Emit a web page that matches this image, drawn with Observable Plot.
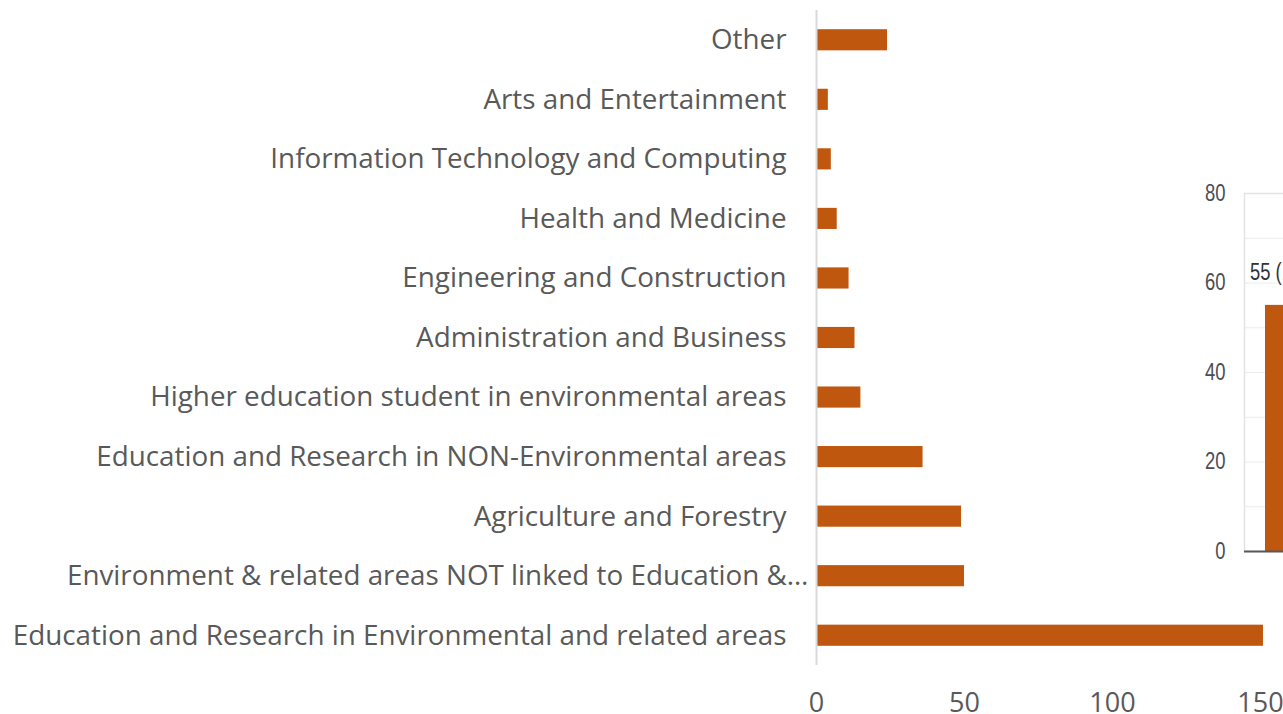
<!DOCTYPE html>
<html>
<head>
<meta charset="utf-8">
<script src="https://cdn.jsdelivr.net/npm/d3@7"></script>
<script src="https://cdn.jsdelivr.net/npm/@observablehq/plot@0.6"></script>
<style>
  html, body { margin: 0; padding: 0; background: #fff; }
  #wrap { position: relative; width: 1283px; height: 714px; overflow: hidden; }
  #main { position: absolute; left: 0; top: 0; }
  #inset { position: absolute; left: 1180px; top: 170px; width: 103px; height: 400px; overflow: hidden; }
  #wrap svg { max-width: none !important; }
</style>
</head>
<body>
<div id="wrap"><div id="main"></div><div id="inset"></div></div>
<script>
// Main chart data (top to bottom)
const categories = [
  "Other",
  "Arts and Entertainment",
  "Information Technology and Computing",
  "Health and Medicine",
  "Engineering and Construction",
  "Administration and Business",
  "Higher education student in environmental areas",
  "Education and Research in NON-Environmental areas",
  "Agriculture and Forestry",
  "Environment & related areas NOT linked to Education &…",
  "Education and Research in Environmental and related areas"
];
const values = [24, 4, 5, 7, 11, 13, 15, 36, 49, 50, 151];
const xTicks = [0, 50, 100, 150];
const truncatedCategory = categories[9];

// Inset chart data (partially visible)
const insetCategories = ["A"];
const insetValues = [55];
const insetLabels = ["55 (15.1%)"];
const insetTicks = [0, 20, 40, 60, 80];
const insetGrid = [10, 20, 30, 40, 50, 60, 70, 80];

const barColor = "#c0570e";
const data = categories.map((c, i) => ({category: c, value: values[i]}));

const main = Plot.plot({
  width: 1283,
  height: 714,
  marginLeft: 816,
  marginRight: 23,
  marginTop: 10,
  marginBottom: 49,
  style: {fontFamily: "'Open Sans', sans-serif", fontSize: "27.8px", color: "#595959", background: "#fff"},
  x: {domain: [0, 150], label: null},
  y: {domain: categories, paddingInner: 0.645, paddingOuter: 0.3225, round: false, label: null},
  marks: [
    Plot.barX(data, {x: "value", y: "category", fill: barColor}),
    Plot.ruleX([0], {stroke: "#d9d9d9", strokeWidth: 2}),
    Plot.axisX(xTicks, {tickSize: 0, tickPadding: 27, label: null, tickFormat: d => String(d), fill: "#595959", fontSize: 27}),
    Plot.axisY(categories.filter(c => c !== truncatedCategory), {tickSize: 0, tickPadding: 30, label: null, fill: "#595959"}),
    Plot.axisY([truncatedCategory], {tickSize: 0, tickPadding: 8, label: null, fill: "#595959"})
  ]
});
document.getElementById("main").appendChild(main);

const insetData = insetCategories.map((c, i) => ({category: c, value: insetValues[i], label: insetLabels[i]}));
const inset = Plot.plot({
  width: 190,
  height: 400,
  marginLeft: 64,
  marginRight: 0,
  marginTop: 23,
  marginBottom: 19,
  style: {fontFamily: "'Liberation Sans', Arial, sans-serif", fontSize: "23px", color: "#4a4d57", background: "transparent"},
  x: {domain: insetCategories, padding: 0.2, axis: null},
  y: {domain: [0, 80], label: null},
  marks: [
    Plot.ruleY(insetGrid, {stroke: "#ececec", strokeWidth: 1}),
    Plot.frame({stroke: "#e3e3e3", strokeWidth: 1.5}),
    Plot.barY(insetData, {x: "category", y: "value", fill: barColor}),
    Plot.text(insetData, {x: "category", y: "value", text: "label", textAnchor: "start", dx: -57, dy: -33, fill: "#333", fontSize: 23}),
    Plot.ruleY([0], {stroke: "#595959", strokeWidth: 2}),
    Plot.axisY(insetTicks, {tickSize: 0, tickPadding: 19, label: null, fill: "#4a4d57"})
  ]
});
document.getElementById("inset").appendChild(inset);
// condensed look for the inset's text (the original uses a narrow face)
inset.querySelectorAll("text").forEach(t => {
  const w = t.getComputedTextLength();
  if (w > 0) {
    t.setAttribute("textLength", (w * 0.8).toFixed(1));
    t.setAttribute("lengthAdjust", "spacingAndGlyphs");
  }
});
</script>
</body>
</html>
